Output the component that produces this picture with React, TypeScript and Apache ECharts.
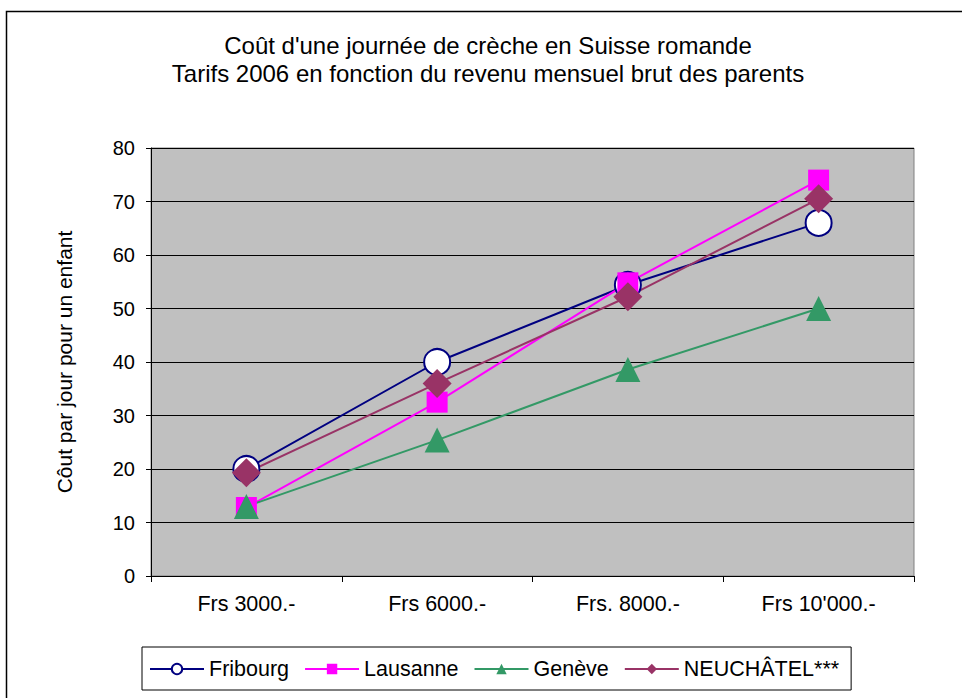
import React, { useEffect, useRef } from "react";
import * as echarts from "echarts";

const categories = ["Frs 3000.-", "Frs 6000.-", "Frs. 8000.-", "Frs 10'000.-"];
const fribourg = [20, 40, 54.4, 66];
const lausanne = [12.8, 32.5, 54.8, 74];
const geneve = [13, 25.4, 38.6, 50];
const neuchatel = [19.3, 36, 52.2, 70.5];
const yTicks = { min: 0, max: 80, interval: 10 };
const titleLines = [
  "Coût d'une journée de crèche en Suisse romande",
  "Tarifs 2006 en fonction du revenu mensuel brut des parents",
];
const yName = "Côut par jour pour un enfant";

const FONT = "'Liberation Sans', Arial, sans-serif";

export default function App() {
  const ref = useRef<HTMLDivElement>(null);
  useEffect(() => {
    if (!ref.current) return;
    const chart = echarts.init(ref.current, null, { renderer: "svg" });
    const mk = (name: string, data: number[], color: string, symbol: string, size: number, fill?: string) => ({
      name,
      type: "line",
      data,
      symbol,
      symbolSize: size,
      showSymbol: true,
      lineStyle: { color, width: 2 },
      itemStyle: fill
        ? { color: fill, borderColor: color, borderWidth: 2 }
        : { color, borderColor: color, borderWidth: 0 },
      emphasis: { disabled: true },
    });
    chart.setOption({
      animation: false,
      backgroundColor: "#ffffff",
      textStyle: { fontFamily: FONT },
      title: {
        text: titleLines.join("\n"),
        left: 483,
        textAlign: "center",
        top: 26,
        textStyle: { fontSize: 24, fontWeight: "normal", color: "#000", lineHeight: 28, fontFamily: FONT },
      },
      graphic: [
        {
          type: "rect",
          shape: { x: 6.5, y: 11.5, width: 1000, height: 1000 },
          style: { fill: "none", stroke: "#000", lineWidth: 1.5 },
          silent: true,
        },
      ],
      grid: {
        left: 151,
        top: 148,
        right: 48,
        bottom: 122,
        show: true,
        backgroundColor: "#C0C0C0",
        borderColor: "#808080",
        borderWidth: 1,
      },
      legend: {
        left: 142,
        top: 647,
        orient: "horizontal",
        padding: [11, 12, 10, 7],
        borderColor: "#000",
        borderWidth: 1,
        itemGap: 15,
        itemWidth: 54,
        itemHeight: 13,
        textStyle: { fontSize: 21.5, color: "#000", fontFamily: FONT },
        data: ["Fribourg", "Lausanne", "Genève", "NEUCHÂTEL***"],
      },
      xAxis: {
        type: "category",
        data: categories,
        boundaryGap: true,
        axisLine: { show: true, lineStyle: { color: "#000", width: 1 } },
        axisTick: { show: true, length: 6, interval: 0, lineStyle: { color: "#000" } },
        axisLabel: { fontSize: 21.5, color: "#000", margin: 17, fontFamily: FONT, interval: 0 },
        splitLine: { show: false },
      },
      yAxis: {
        type: "value",
        min: yTicks.min,
        max: yTicks.max,
        interval: yTicks.interval,
        name: yName,
        nameLocation: "middle",
        nameGap: 76,
        nameTextStyle: { fontSize: 21, color: "#000", fontFamily: FONT },
        axisLine: { show: true, lineStyle: { color: "#000", width: 1 } },
        axisTick: { show: true, length: 5, lineStyle: { color: "#000" } },
        axisLabel: { fontSize: 20, color: "#000", margin: 16, fontFamily: FONT },
        splitLine: { show: true, lineStyle: { color: "#000", width: 1 } },
      },
      series: [
        mk("Fribourg", fribourg, "#000080", "circle", 26, "#ffffff"),
        mk("Lausanne", lausanne, "#FF00FF", "rect", 21),
        mk("Genève", geneve, "#339966", "triangle", 25),
        mk("NEUCHÂTEL***", neuchatel, "#993366", "diamond", 29),
      ],
    });
    return () => chart.dispose();
  }, []);
  return (
    <div
      ref={ref}
      style={{ position: "absolute", left: 0, top: 0, width: 962, height: 698, background: "#fff" }}
    />
  );
}
